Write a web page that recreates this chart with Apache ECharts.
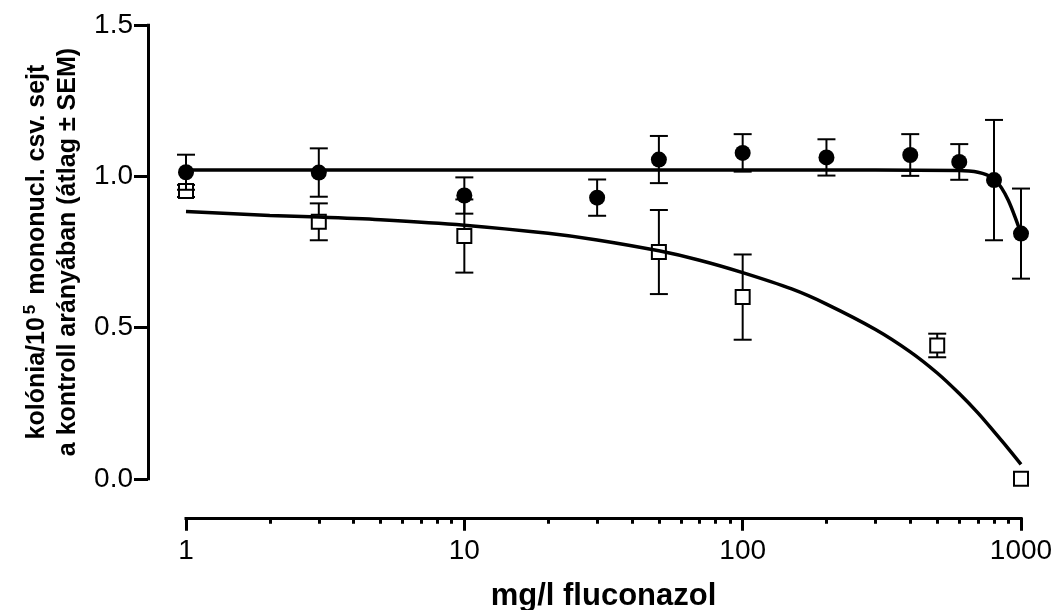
<!DOCTYPE html>
<html>
<head>
<meta charset="utf-8">
<script src="https://cdn.jsdelivr.net/npm/echarts@6/dist/echarts.min.js"></script>
<style>
  html, body { margin: 0; padding: 0; background: #fff; }
  #chart { width: 1055px; height: 610px; }
</style>
</head>
<body>
<div id="chart"></div>
<script>
// Colony counts per 10^5 mononuclear cells relative to control (mean ± SEM)
// Filled circles
const filledDoses = [1, 3, 10, 30, 50, 100, 200, 400, 600, 800, 1000];
const filledMeans = [1.014, 1.013, 0.937, 0.930, 1.056, 1.078, 1.063, 1.071, 1.048, 0.988, 0.811];
const filledSems  = [0.058, 0.080, 0.060, 0.060, 0.078, 0.062, 0.060, 0.069, 0.059, 0.199, 0.149];

// Open squares
const openDoses = [1, 3, 10, 50, 100, 500, 1000];
const openMeans = [0.952, 0.850, 0.803, 0.750, 0.601, 0.441, 0.000];
const openSems  = [0.020, 0.061, 0.121, 0.139, 0.141, 0.039, 0.000];

// Fitted curves
const filledFitDoses  = [1, 10, 100, 300, 600, 650, 700, 750, 800, 850, 900, 950, 1000];
const filledFitValues = [1.021, 1.021, 1.021, 1.021, 1.020, 1.018, 1.014, 1.006, 0.992, 0.963, 0.921, 0.868, 0.811];
const openFitDoses  = [1, 2, 3, 5, 10, 20, 30, 50, 70, 100, 150, 200, 300, 400, 500, 600, 700, 800, 900, 1000];
const openFitValues = [0.884, 0.871, 0.866, 0.857, 0.839, 0.812, 0.790, 0.754, 0.723, 0.682, 0.628, 0.578, 0.494, 0.420, 0.350, 0.282, 0.218, 0.156, 0.100, 0.048];

// Axis ticks
const xMajorTicks = [1, 10, 100, 1000];
const xTickLabels = ['1', '10', '100', '1000'];
const xMinorTicks = [2, 3, 4, 5, 6, 7, 8, 9, 20, 30, 40, 50, 60, 70, 80, 90, 200, 300, 400, 500, 600, 700, 800, 900];
const yTicks = [0, 0.5, 1.0, 1.5];
const yTickLabels = ['0.0', '0.5', '1.0', '1.5'];

const xTitle = 'mg/l fluconazol';
const yTitleLine1a = 'kolónia/10';
const yTitleSup = '5';
const yTitleLine1b = ' mononucl. csv. sejt';
const yTitleLine2 = 'a kontroll arányában (átlag ± SEM)';

const BLACK = '#000000';
const FONT = '"Liberation Sans", Arial, Helvetica, sans-serif';

function zip3(a, b, c) { return a.map((v, i) => [v, b[i], c[i]]); }
function zip2(a, b) { return a.map((v, i) => [v, b[i]]); }

// Vertical error bar with caps at mean ± SEM
function errorBar(params, api) {
  const x = api.value(0), m = api.value(1), e = api.value(2);
  if (!e) return null;
  const hi = api.coord([x, m + e]);
  const lo = api.coord([x, m - e]);
  const hw = 9;
  const style = { stroke: BLACK, lineWidth: 2, fill: null };
  return {
    type: 'group',
    children: [
      { type: 'line', shape: { x1: hi[0], y1: hi[1], x2: lo[0], y2: lo[1] }, style },
      { type: 'line', shape: { x1: hi[0] - hw, y1: hi[1], x2: hi[0] + hw, y2: hi[1] }, style },
      { type: 'line', shape: { x1: lo[0] - hw, y1: lo[1], x2: lo[0] + hw, y2: lo[1] }, style }
    ]
  };
}

const chart = echarts.init(document.getElementById('chart'), null, { renderer: 'canvas' });

chart.setOption({
  animation: false,
  backgroundColor: '#ffffff',
  grid: { left: 186, right: 34, top: 25.3, bottom: 131.2, containLabel: false, outerBoundsMode: 'none' },
  xAxis: [
    {
      type: 'log', logBase: 10, min: 1, max: 1000,
      position: 'bottom', offset: 39,
      axisLine: { show: true, onZero: false, lineStyle: { color: BLACK, width: 3, cap: 'square' } },
      axisTick: { show: true, inside: false, length: 13, customValues: xMajorTicks, lineStyle: { color: BLACK, width: 3 } },
      axisLabel: {
        show: true, margin: 19, color: BLACK, fontFamily: FONT, fontSize: 28,
        customValues: xMajorTicks,
        formatter: v => xTickLabels[xMajorTicks.indexOf(Math.round(v))] ?? ''
      },
      splitLine: { show: false },
      name: xTitle, nameLocation: 'middle', nameGap: 63, nameMoveOverlap: false,
      nameTextStyle: { color: BLACK, fontFamily: FONT, fontWeight: 'bold', fontSize: 31 }
    },
    {
      type: 'log', logBase: 10, min: 1, max: 1000,
      position: 'bottom', offset: 39,
      axisLine: { show: false, onZero: false },
      axisTick: { show: true, inside: false, length: 6, customValues: xMinorTicks, lineStyle: { color: BLACK, width: 3 } },
      axisLabel: { show: false },
      splitLine: { show: false }
    }
  ],
  yAxis: {
    type: 'value', min: 0, max: 1.5, interval: 0.5,
    position: 'left', offset: 38,
    axisLine: { show: true, onZero: false, lineStyle: { color: BLACK, width: 3, cap: 'square' } },
    axisTick: { show: true, inside: false, length: 14, lineStyle: { color: BLACK, width: 3 } },
    axisLabel: {
      margin: 15, color: BLACK, fontFamily: FONT, fontSize: 28,
      formatter: v => yTickLabels[yTicks.indexOf(Math.round(v * 10) / 10)] ?? ''
    },
    splitLine: { show: false },
    name: '{b|' + yTitleLine1a + '}{sup|' + yTitleSup + '}{b|' + yTitleLine1b + '}\n{b|' + yTitleLine2 + '}',
    nameLocation: 'middle', nameGap: 64, nameMoveOverlap: false,
    nameTextStyle: {
      color: BLACK, fontFamily: FONT, fontWeight: 'bold', fontSize: 25, lineHeight: 31,
      rich: {
        b: { color: BLACK, fontFamily: FONT, fontWeight: 'bold', fontSize: 25, lineHeight: 31 },
        sup: { color: BLACK, fontFamily: FONT, fontWeight: 'bold', fontSize: 17, lineHeight: 31, verticalAlign: 'top', padding: [0, 3, 0, 3] }
      }
    }
  },
  series: [
    {
      name: 'open SEM', type: 'custom', z: 2, clip: false,
      renderItem: errorBar, encode: { x: 0, y: 1 },
      data: zip3(openDoses, openMeans, openSems)
    },
    {
      name: 'open', type: 'scatter', z: 3, clip: false,
      symbol: 'rect', symbolSize: 14,
      itemStyle: { color: '#ffffff', borderColor: BLACK, borderWidth: 2, opacity: 1 },
      data: zip2(openDoses, openMeans)
    },
    {
      name: 'open fit', type: 'line', z: 4, clip: false,
      showSymbol: false, symbol: 'none', smooth: 0.3,
      lineStyle: { color: BLACK, width: 3.5 },
      data: zip2(openFitDoses, openFitValues)
    },
    {
      name: 'filled fit', type: 'line', z: 4, clip: false,
      showSymbol: false, symbol: 'none', smooth: 0.3,
      lineStyle: { color: BLACK, width: 3.5 },
      data: zip2(filledFitDoses, filledFitValues)
    },
    {
      name: 'filled SEM', type: 'custom', z: 5, clip: false,
      renderItem: errorBar, encode: { x: 0, y: 1 },
      data: zip3(filledDoses, filledMeans, filledSems)
    },
    {
      name: 'filled', type: 'scatter', z: 6, clip: false,
      symbol: 'circle', symbolSize: 16,
      itemStyle: { color: BLACK, opacity: 1 },
      data: zip2(filledDoses, filledMeans)
    }
  ]
});
</script>
</body>
</html>
